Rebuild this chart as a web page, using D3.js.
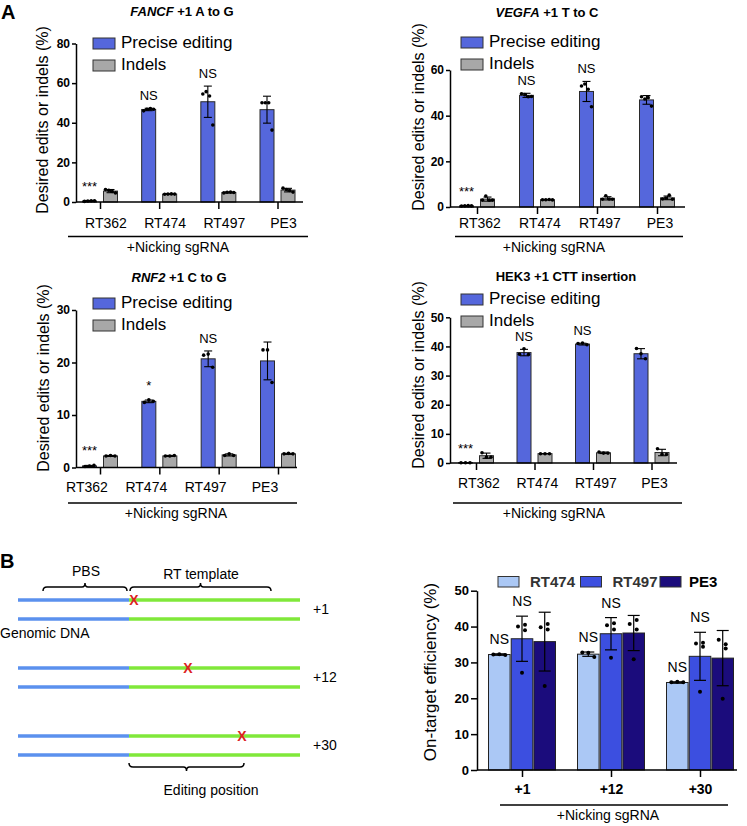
<!DOCTYPE html>
<meta charset="utf-8">
<style>
body { margin: 0; background: #fff; }
text { font-family: "Liberation Sans", Arial, sans-serif; fill: #000; }
.axis path, .axis line { stroke: #000; stroke-width: 1.5px; }
.axis text { font-family: "Liberation Sans", Arial, sans-serif; font-weight: bold; font-size: 12px; }
</style>
<body>
<script src="https://d3js.org/d3.v7.min.js"></script>
<script>
// ---------- data: panel A ----------
var guides = ["RT362", "RT474", "RT497", "PE3"];
var seriesA = ["Precise editing", "Indels"];

var fancfPrecise = [0.5, 46.7, 50.6, 46.6];
var fancfPreciseSd = [0.2, 0.6, 7.9, 6.8];
var fancfPrecisePts = [[0.3, 0.5, 0.6, 0.6], [46.0, 46.8, 47.2, 46.8], [54.5, 55.7, 53.5, 38.9], [50.1, 50.1, 50.1, 36.3]];
var fancfIndels = [5.5, 4.0, 4.8, 6.0];
var fancfIndelsSd = [0.8, 0.2, 0.3, 0.9];
var fancfIndelsPts = [[6.3, 5.9, 5.3, 4.6], [3.9, 4.0, 4.1, 4.0], [4.6, 4.9, 5.0, 4.8], [7.0, 6.3, 5.8, 5.0]];
var fancfSig = ["***", "NS", "NS", ""];

var vegfaPrecise = [0.5, 48.9, 50.6, 46.9];
var vegfaPreciseSd = [0.1, 0.9, 4.4, 1.9];
var vegfaPrecisePts = [[0.4, 0.5, 0.6, 0.5], [49.6, 49.2, 48.3, 48.4], [53.0, 53.9, 51.6, 43.9], [48.3, 47.3, 47.9, 44.2]];
var vegfaIndels = [3.45, 3.2, 3.8, 4.0];
var vegfaIndelsSd = [0.9, 0.1, 0.7, 0.8];
var vegfaIndelsPts = [[3.0, 4.8, 3.0, 3.0], [3.2, 3.2, 3.3, 3.1], [3.4, 4.9, 3.5, 3.4], [3.5, 3.9, 5.2, 3.4]];
var vegfaSig = ["***", "NS", "NS", ""];

var rnf2Precise = [0.3, 12.6, 20.7, 20.3];
var rnf2PreciseSd = [0.1, 0.25, 1.5, 3.6];
var rnf2PrecisePts = [[0.2, 0.3, 0.4], [12.4, 12.9, 12.6], [21.4, 21.6, 19.1], [22.4, 22.4, 16.2]];
var rnf2Indels = [2.2, 2.2, 2.4, 2.6];
var rnf2IndelsSd = [0.1, 0.1, 0.2, 0.1];
var rnf2IndelsPts = [[2.2, 2.3, 2.2], [2.2, 2.2, 2.3], [2.3, 2.6, 2.3], [2.6, 2.7, 2.6]];
var rnf2Sig = ["***", "*", "NS", ""];

var hek3Precise = [0.1, 37.9, 40.8, 37.5];
var hek3PreciseSd = [0.05, 1.1, 0.3, 1.75];
var hek3PrecisePts = [[0.1, 0.1, 0.1], [37.3, 39.2, 37.2], [41.0, 41.2, 40.6], [39.3, 37.5, 35.8]];
var hek3Indels = [2.5, 3.2, 3.5, 3.6];
var hek3IndelsSd = [0.9, 0.05, 0.25, 1.1];
var hek3IndelsPts = [[3.5, 2.0, 2.0], [3.2, 3.2, 3.2], [3.8, 3.4, 3.4], [4.9, 3.0, 2.9]];
var hek3Sig = ["***", "NS", "NS", ""];

// ---------- data: panel B ----------
var positions = ["+1", "+12", "+30"];
var seriesB = ["RT474", "RT497", "PE3"];
var rt474Eff = [32.2, 32.3, 24.4];
var rt474Sd = [0.2, 0.6, 0.2];
var rt474Pts = [[32.2, 32.3, 32.1], [32.8, 32.7, 31.5], [24.5, 24.6, 24.5]];
var rt497Eff = [36.6, 38.0, 31.7];
var rt497Sd = [6.3, 4.5, 6.7];
var rt497Pts = [[40.0, 40.5, 39.0, 27.1], [40.4, 40.9, 39.2, 31.3], [35.3, 35.5, 34.4, 21.8]];
var pe3Eff = [35.8, 38.2, 31.2];
var pe3Sd = [8.2, 4.9, 7.7];
var pe3Pts = [[39.8, 40.7, 39.2, 23.4], [40.7, 41.8, 39.2, 30.9], [36.3, 35.1, 33.9, 19.9]];
var rt474Sig = ["NS", "NS", "NS"];
var rt497Sig = ["NS", "NS", "NS"];

// ---------- data: schematic ----------
var editSites = ["+1", "+12", "+30"];
var editNt = [1, 12, 30];

var colorA = d3.scaleOrdinal().domain(seriesA).range(["#5567dc", "#a8a8a8"]);
var colorB = d3.scaleOrdinal().domain(seriesB).range(["#abc8f5", "#3c4fe0", "#1b0c7c"]);

var svg = d3.select("body").append("svg")
    .attr("width", 747)
    .attr("height", 826);

function dotOffset(n, j) {
  if (n === 3) return [-4.5, 0, 4.5][j];
  return [-5, -1.7, 1.7, 5][j];
}

// layout of the four panel-A charts
var panels = [
  {gene: "FANCF", rest: " +1 A to G", italic: true, p: fancfPrecise, ps: fancfPreciseSd, pp: fancfPrecisePts,
   i: fancfIndels, is: fancfIndelsSd, ip: fancfIndelsPts, sig: fancfSig, yMax: 80, ticks: [0, 20, 40, 60, 80],
   ax: 76, axEnd: 303, y0: 202, yTop: 43.5, c0: 100, c1: 277.5, labelShift: 6, labelY: 228,
   line: [68, 308], lineY: 236.5, nickX: 178, nickY: 252, titleX: 182, titleY: 16, legX: 93, legY: 38, ylab: [42, 120]},
  {gene: "VEGFA", rest: " +1 T to C", italic: true, p: vegfaPrecise, ps: vegfaPreciseSd, pp: vegfaPrecisePts,
   i: vegfaIndels, is: vegfaIndelsSd, ip: vegfaIndelsPts, sig: vegfaSig, yMax: 60, ticks: [0, 20, 40, 60],
   ax: 450, axEnd: 685, y0: 207, yTop: 70, c0: 477, c1: 657, labelShift: 3, labelY: 228,
   line: [455, 683], lineY: 236.5, nickX: 554, nickY: 252, titleX: 547, titleY: 17, legX: 461, legY: 37, ylab: [418, 117]},
  {gene: "RNF2", rest: " +1 C to G", italic: true, p: rnf2Precise, ps: rnf2PreciseSd, pp: rnf2PrecisePts,
   i: rnf2Indels, is: rnf2IndelsSd, ip: rnf2IndelsPts, sig: rnf2Sig, yMax: 30, ticks: [0, 10, 20, 30],
   ax: 76, axEnd: 297, y0: 467.5, yTop: 310, c0: 100, c1: 278, labelShift: -13, labelY: 492,
   line: [68, 297], lineY: 503, nickX: 176, nickY: 518, titleX: 179, titleY: 282, legX: 93, legY: 298, ylab: [43, 378]},
  {gene: "HEK3", rest: " +1 CTT insertion", italic: false, p: hek3Precise, ps: hek3PreciseSd, pp: hek3PrecisePts,
   i: hek3Indels, is: hek3IndelsSd, ip: hek3IndelsPts, sig: hek3Sig, yMax: 50, ticks: [0, 10, 20, 30, 40, 50],
   ax: 450, axEnd: 677, y0: 463, yTop: 317.3, c0: 476, c1: 651.5, labelShift: 3, labelY: 488,
   line: [453, 682], lineY: 503, nickX: 554, nickY: 518, titleX: 566, titleY: 281, legX: 461, legY: 294, ylab: [418, 375]}
];

function drawPanel(p) {
  var g = svg.append("g");
  var y = d3.scaleLinear().domain([0, p.yMax]).range([p.y0, p.yTop]);
  var x = d3.scalePoint().domain(guides).range([p.c0, p.c1]);
  var xs = d3.scaleBand().domain(seriesA).range([-17.5, 17.5]).paddingInner(1 / 3);
  var bw = xs.bandwidth();

  var rows = [];
  guides.forEach(function(gd, k) {
    rows.push({guide: gd, s: seriesA[0], mean: p.p[k], sd: p.ps[k], pts: p.pp[k], sig: p.sig[k]});
    rows.push({guide: gd, s: seriesA[1], mean: p.i[k], sd: p.is[k], pts: p.ip[k], sig: ""});
  });

  g.selectAll("rect.bar").data(rows).enter().append("rect")
      .attr("class", "bar")
      .attr("x", function(d) { return x(d.guide) + xs(d.s); })
      .attr("y", function(d) { return y(d.mean); })
      .attr("width", bw)
      .attr("height", function(d) { return p.y0 - y(d.mean); })
      .attr("fill", function(d) { return colorA(d.s); })
      .attr("stroke", "#2a2a2a")
      .attr("stroke-width", 1);

  var eb = g.selectAll("g.err").data(rows).enter().append("g")
      .attr("class", "err")
      .attr("transform", function(d) { return "translate(" + (x(d.guide) + xs(d.s) + bw / 2) + ",0)"; });
  eb.append("line")
      .attr("y1", function(d) { return y(Math.max(0, d.mean - d.sd)); })
      .attr("y2", function(d) { return y(d.mean + d.sd); })
      .attr("stroke", "#000").attr("stroke-width", 1.1);
  eb.append("line")
      .attr("x1", -4).attr("x2", 4)
      .attr("y1", function(d) { return y(d.mean + d.sd); })
      .attr("y2", function(d) { return y(d.mean + d.sd); })
      .attr("stroke", "#000").attr("stroke-width", 1.1);
  eb.append("line")
      .attr("x1", -4).attr("x2", 4)
      .attr("y1", function(d) { return y(Math.max(0, d.mean - d.sd)); })
      .attr("y2", function(d) { return y(Math.max(0, d.mean - d.sd)); })
      .attr("stroke", "#000").attr("stroke-width", 1.1);
  eb.selectAll("circle")
      .data(function(d) { return d.pts.map(function(v, j) { return {v: v, j: j, n: d.pts.length}; }); })
    .enter().append("circle")
      .attr("cx", function(d) { return dotOffset(d.n, d.j); })
      .attr("cy", function(d) { return y(d.v); })
      .attr("r", 1.8)
      .attr("fill", "#000");
  eb.append("text")
      .attr("y", function(d) { return y(d.mean + d.sd) - (d.sig === "NS" ? 8 : 10); })
      .attr("text-anchor", "middle")
      .style("font-size", "13px")
      .text(function(d) { return d.sig; });

  // axes
  g.append("g").attr("class", "axis")
      .attr("transform", "translate(" + p.ax + ",0)")
      .call(d3.axisLeft(y).tickValues(p.ticks).tickSize(4).tickSizeOuter(0).tickPadding(2));
  var xa = g.append("g").attr("class", "axis")
      .attr("transform", "translate(0," + p.y0 + ")")
      .call(d3.axisBottom(x).tickSize(7).tickFormat(""));
  xa.select(".domain").remove();
  xa.append("line").attr("x1", p.ax).attr("x2", p.axEnd);

  g.selectAll("text.cat").data(guides).enter().append("text")
      .attr("class", "cat")
      .attr("x", function(d) { return x(d) + p.labelShift; })
      .attr("y", p.labelY)
      .attr("text-anchor", "middle")
      .style("font-size", "14px")
      .text(function(d) { return d; });

  g.append("line")
      .attr("x1", p.line[0]).attr("x2", p.line[1])
      .attr("y1", p.lineY).attr("y2", p.lineY)
      .attr("stroke", "#000").attr("stroke-width", 1.3);
  g.append("text")
      .attr("x", p.nickX).attr("y", p.nickY)
      .attr("text-anchor", "middle")
      .style("font-size", "14px")
      .text("+Nicking sgRNA");

  var t = g.append("text")
      .attr("x", p.titleX).attr("y", p.titleY)
      .attr("text-anchor", "middle")
      .style("font-size", "13px")
      .style("font-weight", "bold");
  t.append("tspan").style("font-style", p.italic ? "italic" : "normal").text(p.gene);
  t.append("tspan").text(p.rest);

  // legend
  var leg = g.selectAll("g.leg").data(seriesA).enter().append("g")
      .attr("transform", function(d, k) { return "translate(" + p.legX + "," + (p.legY + k * 22) + ")"; });
  leg.append("rect")
      .attr("width", 22).attr("height", 11)
      .attr("fill", function(d) { return colorA(d); })
      .attr("stroke", "#333").attr("stroke-width", 1);
  leg.append("text")
      .attr("x", 28).attr("y", 10)
      .style("font-size", "17px")
      .text(function(d) { return d; });

  g.append("text")
      .attr("transform", "translate(" + p.ylab[0] + "," + p.ylab[1] + ") rotate(-90)")
      .attr("dy", "0.35em")
      .attr("text-anchor", "middle")
      .style("font-size", "16px")
      .text("Desired edits or indels (%)");
}

panels.forEach(drawPanel);

// panel letters
svg.append("text").attr("x", 1).attr("y", 19).style("font-size", "20px").style("font-weight", "bold").text("A");
svg.append("text").attr("x", 0).attr("y", 568).style("font-size", "20px").style("font-weight", "bold").text("B");

// ---------- panel B chart ----------
(function() {
  var g = svg.append("g");
  var ax = 477, axEnd = 737, y0 = 770;
  var y = d3.scaleLinear().domain([0, 50]).range([y0, 590.7]);
  var x = d3.scalePoint().domain(positions).range([522, 700]);
  var xs = d3.scaleBand().domain(seriesB).range([-33.5, 33.5]).paddingInner(0.05);
  var bw = xs.bandwidth();
  var effs = [rt474Eff, rt497Eff, pe3Eff];
  var sds = [rt474Sd, rt497Sd, pe3Sd];
  var pts = [rt474Pts, rt497Pts, pe3Pts];
  var sigs = [rt474Sig, rt497Sig, ["", "", ""]];

  var rows = [];
  positions.forEach(function(pos, k) {
    seriesB.forEach(function(s, m) {
      rows.push({pos: pos, s: s, mean: effs[m][k], sd: sds[m][k], pts: pts[m][k], sig: sigs[m][k]});
    });
  });

  g.selectAll("rect.bar").data(rows).enter().append("rect")
      .attr("x", function(d) { return x(d.pos) + xs(d.s); })
      .attr("y", function(d) { return y(d.mean); })
      .attr("width", bw)
      .attr("height", function(d) { return y0 - y(d.mean); })
      .attr("fill", function(d) { return colorB(d.s); })
      .attr("stroke", "#222")
      .attr("stroke-width", 1);

  var eb = g.selectAll("g.err").data(rows).enter().append("g")
      .attr("transform", function(d) { return "translate(" + (x(d.pos) + xs(d.s) + bw / 2) + ",0)"; });
  eb.append("line")
      .attr("y1", function(d) { return y(d.mean - d.sd); })
      .attr("y2", function(d) { return y(d.mean + d.sd); })
      .attr("stroke", "#000").attr("stroke-width", 1.2);
  [1, -1].forEach(function(sign) {
    eb.append("line")
        .attr("x1", -6).attr("x2", 6)
        .attr("y1", function(d) { return y(d.mean + sign * d.sd); })
        .attr("y2", function(d) { return y(d.mean + sign * d.sd); })
        .attr("stroke", "#000").attr("stroke-width", 1.2);
  });
  eb.selectAll("circle")
      .data(function(d) { return d.pts.map(function(v, j) { return {v: v, j: j, n: d.pts.length}; }); })
    .enter().append("circle")
      .attr("cx", function(d) { return d.n === 3 ? [-6, 0, 6][d.j] : [-4, 3, 3, 0][d.j]; })
      .attr("cy", function(d) { return y(d.v); })
      .attr("r", 2)
      .attr("fill", "#000");
  eb.append("text")
      .attr("y", function(d) { return y(d.mean + d.sd) - 10; })
      .attr("text-anchor", "middle")
      .style("font-size", "14px")
      .text(function(d) { return d.sig; });

  var ya = g.append("g").attr("class", "axis")
      .attr("transform", "translate(" + ax + ",0)")
      .call(d3.axisLeft(y).tickValues([0, 10, 20, 30, 40, 50]).tickSize(6).tickSizeOuter(0).tickPadding(2));
  ya.selectAll("text").style("font-size", "13px");
  var xa = g.append("g").attr("class", "axis")
      .attr("transform", "translate(0," + y0 + ")")
      .call(d3.axisBottom(x).tickSize(7).tickPadding(7));
  xa.select(".domain").remove();
  xa.append("line").attr("x1", ax).attr("x2", axEnd);
  xa.selectAll("text").style("font-size", "14px");

  g.append("line").attr("x1", 500).attr("x2", 728).attr("y1", 805).attr("y2", 805)
      .attr("stroke", "#000").attr("stroke-width", 1.3);
  g.append("text").attr("x", 608).attr("y", 820).attr("text-anchor", "middle")
      .style("font-size", "14px").text("+Nicking sgRNA");

  g.append("text")
      .attr("transform", "translate(430,672) rotate(-90)")
      .attr("dy", "0.35em")
      .attr("text-anchor", "middle")
      .style("font-size", "17px")
      .text("On-target efficiency (%)");

  // legend
  var legX = d3.scaleOrdinal().domain(seriesB).range([498, 580.5, 660]);
  var leg = g.selectAll("g.leg").data(seriesB).enter().append("g")
      .attr("transform", function(d) { return "translate(" + legX(d) + ",576.5)"; });
  leg.append("rect").attr("width", 21).attr("height", 10.5)
      .attr("fill", function(d) { return colorB(d); })
      .attr("stroke", "#333").attr("stroke-width", 1);
  leg.append("text").attr("x", function(d) { return d === "PE3" ? 29 : 32; }).attr("y", 10.5)
      .style("font-size", "15px").style("font-weight", "bold")
      .style("fill", function(d) { return d === "PE3" ? "#000" : "#333"; })
      .text(function(d) { return d; });
})();

// ---------- panel B schematic ----------
(function() {
  var g = svg.append("g");
  var row = d3.scalePoint().domain(editSites).range([600, 736]);
  var ntX = d3.scaleLinear().domain([0, 12, 30]).range([129, 188, 242]);
  var xStart = 18, xJoin = 129, xEnd = 300, gap = 19;

  editSites.forEach(function(site, k) {
    [0, gap].forEach(function(off) {
      var yy = row(site) + off;
      g.append("line").attr("x1", xStart).attr("x2", xJoin).attr("y1", yy).attr("y2", yy)
          .attr("stroke", "#5b91ee").attr("stroke-width", 3.5);
      g.append("line").attr("x1", xJoin).attr("x2", xEnd).attr("y1", yy).attr("y2", yy)
          .attr("stroke", "#80e83a").attr("stroke-width", 3.5);
    });
    g.append("text")
        .attr("x", ntX(editNt[k])).attr("y", row(site))
        .attr("dy", "0.36em")
        .attr("text-anchor", "middle")
        .style("font-size", "14px").style("font-weight", "bold").style("fill", "#dd2222")
        .text("X");
    g.append("text")
        .attr("x", 313).attr("y", row(site) + gap / 2)
        .attr("dy", "0.35em")
        .style("font-size", "14px")
        .text(site);
  });

  function brace(x0, x1, yy, dir) {
    var xm = (x0 + x1) / 2;
    return "M" + x0 + "," + (yy + 4 * dir) + "Q" + x0 + "," + yy + " " + (x0 + 4) + "," + yy +
      "H" + (xm - 3) + "Q" + xm + "," + yy + " " + xm + "," + (yy - 4 * dir) +
      "Q" + xm + "," + yy + " " + (xm + 3) + "," + yy +
      "H" + (x1 - 4) + "Q" + x1 + "," + yy + " " + x1 + "," + (yy + 4 * dir);
  }
  g.append("path").attr("d", brace(43, 127, 587, 1)).attr("fill", "none").attr("stroke", "#000").attr("stroke-width", 1.5);
  g.append("path").attr("d", brace(130, 271, 587, 1)).attr("fill", "none").attr("stroke", "#000").attr("stroke-width", 1.5);
  g.append("path").attr("d", brace(xJoin, ntX(30) + 2, 767, -1)).attr("fill", "none").attr("stroke", "#000").attr("stroke-width", 1.5);

  g.append("text").attr("x", 86).attr("y", 576).attr("text-anchor", "middle").style("font-size", "14px").text("PBS");
  g.append("text").attr("x", 201).attr("y", 579).attr("text-anchor", "middle").style("font-size", "14px").text("RT template");
  g.append("text").attr("x", 0).attr("y", 638).style("font-size", "14px").text("Genomic DNA");
  g.append("text").attr("x", 211).attr("y", 795).attr("text-anchor", "middle").style("font-size", "14px").text("Editing position");
})();
</script>
</body>
